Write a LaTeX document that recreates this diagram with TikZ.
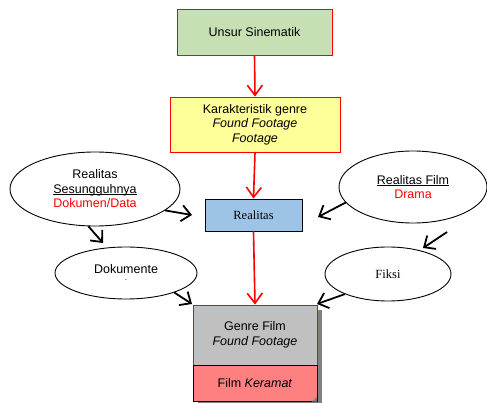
\documentclass[tikz,border=0pt]{standalone}
\usepackage{fontspec}
\setmainfont{Liberation Sans}
\newfontfamily\serifx{Liberation Serif}
\usetikzlibrary{arrows.meta,shapes.geometric}
\definecolor{boxgreen}{HTML}{C6E0B4}
\definecolor{boxyellow}{HTML}{FFFF99}
\definecolor{boxblue}{HTML}{9DC3E6}
\definecolor{boxgray}{HTML}{C0C0C0}
\definecolor{boxpink}{HTML}{FF8080}
\definecolor{shadowgray}{HTML}{808080}
\newcommand\myul[1]{\setbox0\hbox{#1}\rlap{\rule[-1.6pt]{\wd0}{0.6pt}}\box0}
\begin{document}
\begin{tikzpicture}[x=1pt,y=-1pt,font=\fontsize{12.5}{14.5}\selectfont,
  redbox/.style={draw=red,line width=0.9pt,rectangle,align=center,inner sep=0pt},
  oval/.style={draw=black,line width=0.9pt,ellipse,inner sep=0pt,align=center},
  redarrow/.style={draw=red,line width=1.6pt,-{Straight Barb[length=10pt,width=15pt,line width=1.6pt]}},
  blkarrow/.style={draw=black,line width=1.8pt,-{Straight Barb[length=9pt,width=16pt,line width=1.8pt]}}]
\useasboundingbox (0,0) rectangle (487,403);
% shadow of the bottom box
\fill[shadowgray] (198,310) rectangle (322,403);
\node[redbox,fill=boxgreen,minimum width=155pt,minimum height=46pt] (b1) at (254.5,32) {Unsur Sinematik};
\node[redbox,fill=boxyellow,minimum width=170pt,minimum height=55pt] (b2) at (255,124.5) {Karakteristik genre\\\textit{Found Footage}\\\textit{Footage}};
\node[draw=black,line width=0.9pt,fill=boxblue,minimum width=97pt,minimum height=32pt,inner sep=0pt,font=\fontsize{12.5}{14.5}\selectfont\serifx] (b3) at (253.5,215) {Realitas};
\node[redbox,fill=boxgray,minimum width=124pt,minimum height=60pt] (g) at (255,335) {Genre Film\\\textit{Found Footage}};
\node[draw=black,line width=0.9pt,fill=boxpink,minimum width=124pt,minimum height=36pt,inner sep=0pt] (p) at (255,383) {Film \textit{Keramat}};
\fill[shadowgray] (312,401.5) -- (317,396.5) -- (317,401.5) -- cycle;
% ellipses
\node[oval,minimum width=170pt,minimum height=74pt] (e1) at (95,189) {Realitas\\\myul{Sesungguhnya}\\\textcolor{red}{Dokumen/Data}};
\node[oval,minimum width=148pt,minimum height=72pt] (e2) at (413,187) {\myul{Realitas Film}\\\textcolor{red}{Drama}};
\node[oval,minimum width=142pt,minimum height=52pt] (e3) at (126,273) {};
\node at (126,269) (t3) {Dokumente};
\node[font=\fontsize{6}{6}\selectfont,inner sep=0pt] (m3) at (126,281) {-};
\node[oval,minimum width=126pt,minimum height=54pt,font=\fontsize{12.5}{14.5}\selectfont\serifx] (e4) at (388,274) {Fiksi};
% coordinates for free ends
\coordinate (h1) at (192,215);
\coordinate (h2) at (103,243);
\coordinate (h3) at (318,217);
\coordinate (s4) at (447,232);
\coordinate (h4) at (423,248);
\coordinate (h5) at (192,304);
\coordinate (h6) at (317,304);
% red arrows
\draw[redarrow] (b1.south) -- (b2.north);
\draw[redarrow] (b2.south) -- (b3.north);
\draw[redarrow] (b3.south) -- (g.north);
% black arrows
\draw[blkarrow] (e1.-17) -- (h1);
\draw[blkarrow] (e1.-100) -- (h2);
\draw[blkarrow] (e2.193) -- (h3);
\draw[blkarrow] (s4) -- (h4);
\draw[blkarrow] (e3.-22) -- (h5);
\draw[blkarrow] (e4.205) -- (h6);
\end{tikzpicture}
\end{document}
